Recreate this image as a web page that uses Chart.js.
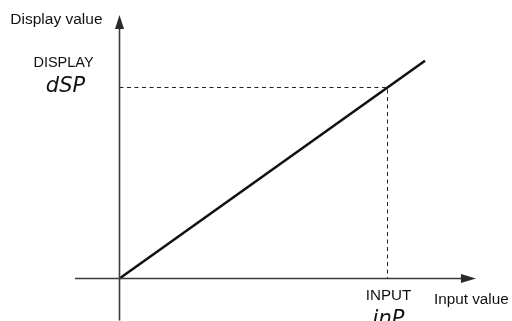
<!DOCTYPE html>
<html>
<head>
<meta charset="utf-8">
<script src="https://cdn.jsdelivr.net/npm/chart.js@4"></script>
<style>
  body { margin: 0; background: #fff; }
  #wrap { width: 512px; height: 321px; }
</style>
</head>
<body>
<div id="wrap"><canvas id="transferChart"></canvas></div>
<script>
// axis extents (abstract units, display = input line)
const inputAxis = [-16.6, 133];
const displayAxis = [-22, 138];

// the transfer line
const lineInput = [0, 114];
const lineDisplay = [0, 114];

// the marked point
const markInput = 100;
const markDisplay = 100;

const axisTitles = ["Display value", "Input value"];
const markLabels = ["DISPLAY", "INPUT"];
const markCodes = ["dSP", "inP"];

const axisColor = "#3b3b3b";
const sans = "'Liberation Sans', Arial, sans-serif";

// arrowheads + text labels, placed through the scales
const labelPlugin = {
    id: "labels",
    afterDatasetsDraw(chart) {
        const ctx = chart.ctx;
        const x = chart.scales.x;
        const y = chart.scales.y;
        const ox = x.getPixelForValue(0);
        const oy = y.getPixelForValue(0);

        ctx.save();
        ctx.fillStyle = "#2a2a2a";

        // y arrow
        const ty = y.getPixelForValue(displayAxis[1]);
        ctx.beginPath();
        ctx.moveTo(ox, ty);
        ctx.lineTo(ox - 4.5, ty + 14);
        ctx.lineTo(ox + 4.5, ty + 14);
        ctx.closePath();
        ctx.fill();

        // x arrow
        const tx = x.getPixelForValue(inputAxis[1]);
        ctx.beginPath();
        ctx.moveTo(tx, oy);
        ctx.lineTo(tx - 15, oy - 4.5);
        ctx.lineTo(tx - 15, oy + 4.5);
        ctx.closePath();
        ctx.fill();

        ctx.fillStyle = "#111";
        ctx.textBaseline = "middle";

        // axis titles
        ctx.font = "15.5px " + sans;
        ctx.textAlign = "right";
        ctx.fillText(axisTitles[0], ox - 17, ty + 5);
        ctx.font = "15.3px " + sans;
        ctx.textAlign = "left";
        ctx.fillText(axisTitles[1], tx - 42, oy + 21);

        // mark labels
        const mx = x.getPixelForValue(markInput);
        const my = y.getPixelForValue(markDisplay);
        ctx.textAlign = "center";
        ctx.font = "14.5px " + sans;
        ctx.fillText(markLabels[0], ox - 56, my - 24);
        ctx.font = "15.2px " + sans;
        ctx.fillText(markLabels[1], mx + 1, oy + 17);

        // segment-style codes
        ctx.font = "italic 21px 'DejaVu Sans', sans-serif";
        ctx.fillText(markCodes[0], ox - 54, my - 1);
        ctx.fillText(markCodes[1], mx + 1, oy + 41);
        ctx.restore();
    }
};

new Chart(document.getElementById("transferChart"), {
    type: "scatter",
    data: {
        datasets: [
            {
                // input axis
                data: [{ x: inputAxis[0], y: 0 }, { x: inputAxis[1] - 5, y: 0 }],
                borderColor: axisColor,
                borderWidth: 1.6
            },
            {
                // display axis
                data: [{ x: 0, y: displayAxis[0] }, { x: 0, y: displayAxis[1] - 5 }],
                borderColor: axisColor,
                borderWidth: 1.6
            },
            {
                // dashed guides
                data: [{ x: 0, y: markDisplay }, { x: markInput, y: markDisplay }, { x: markInput, y: 0 }],
                borderColor: "#222",
                borderWidth: 1,
                borderDash: [4, 3.5]
            },
            {
                data: lineInput.map((v, i) => ({ x: v, y: lineDisplay[i] })),
                borderColor: "#111",
                borderWidth: 2.6
            }
        ].map(d => Object.assign(d, { showLine: true, pointRadius: 0, fill: false }))
    },
    options: {
        responsive: true,
        maintainAspectRatio: false,
        animation: false,
        layout: { padding: 0, autoPadding: false },
        plugins: {
            legend: { display: false },
            tooltip: { enabled: false }
        },
        scales: {
            x: { type: "linear", display: false, min: -44.59, max: 146.46 },
            y: { type: "linear", display: false, min: -22.25, max: 145.81 }
        }
    },
    plugins: [labelPlugin]
});
</script>
</body>
</html>
